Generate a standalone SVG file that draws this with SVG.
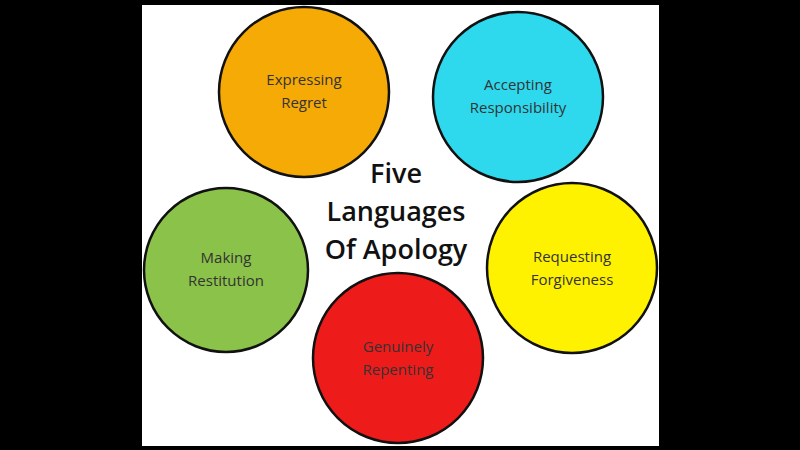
<svg xmlns="http://www.w3.org/2000/svg" width="800" height="450" viewBox="0 0 800 450">
<style>
.c{stroke:#111;stroke-width:2.5}
.l{font-family:"Open Sans","Liberation Sans",sans-serif;font-size:15px;fill:#333;text-anchor:middle}
.t{font-family:"Open Sans","Liberation Sans",sans-serif;font-size:27px;font-weight:600;fill:#111;text-anchor:middle}
</style>
<rect width="800" height="450" fill="#000"/>
<rect x="142" y="5" width="517" height="441" fill="#fff"/>
<g id="center"><text class="t" x="396" y="183">Five</text><text class="t" x="396" y="221">Languages</text><text class="t" x="396" y="259">Of Apology</text></g>
<g id="regret"><circle class="c" cx="304" cy="92" r="85" fill="#F6AA06"/><text class="l" x="304" y="85">Expressing</text><text class="l" x="304" y="108">Regret</text></g>
<g id="responsibility"><circle class="c" cx="518" cy="97" r="85" fill="#2ED9EE"/><text class="l" x="518" y="90">Accepting</text><text class="l" x="518" y="113">Responsibility</text></g>
<g id="restitution"><circle class="c" cx="226" cy="270" r="82" fill="#8BC34A"/><text class="l" x="226" y="263">Making</text><text class="l" x="226" y="286">Restitution</text></g>
<g id="repenting"><circle class="c" cx="398" cy="358" r="85" fill="#EE1B1B"/><text class="l" x="398" y="352">Genuinely</text><text class="l" x="398" y="375">Repenting</text></g>
<g id="forgiveness"><circle class="c" cx="572" cy="268" r="85" fill="#FFF200"/><text class="l" x="572" y="262">Requesting</text><text class="l" x="572" y="285">Forgiveness</text></g>
<g id="connectors"/>
</svg>
